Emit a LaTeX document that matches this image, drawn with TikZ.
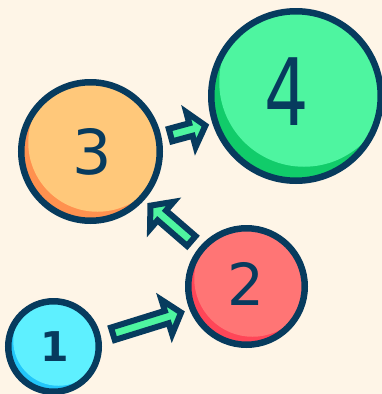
\documentclass[tikz,border=0pt]{standalone}
\usepackage{fontspec}
\usetikzlibrary{calc}
\newfontfamily\digitfont{DejaVu Sans}
\definecolor{bgcream}{HTML}{FEF5E7}
\definecolor{ink}{HTML}{073B5E}
\definecolor{cyanL}{HTML}{5EF0FF}
\definecolor{cyanD}{HTML}{22C6FA}
\definecolor{redL}{HTML}{FF7575}
\definecolor{redD}{HTML}{FF4658}
\definecolor{orangeL}{HTML}{FFC87A}
\definecolor{orangeD}{HTML}{FF914F}
\definecolor{greenL}{HTML}{4EF5A0}
\definecolor{greenD}{HTML}{11CC6A}
\tikzset{
  ball/.style n args={4}{circle, draw=ink, line width=6.5pt, fill=#3, minimum size=#1, inner sep=0pt,
    path picture={\fill[#2] ([#4]path picture bounding box.center) circle[radius=#1/2];}},
  digit/.style={text=ink, inner sep=0pt, outer sep=0pt, font=\digitfont},
  arrowbody/.style={fill=greenL, draw=ink, line width=6pt, line join=miter},
}
\newcommand\blkarrow[5]{%
  \coordinate (T) at ($(#1)!#3!(#2)$);
  \coordinate (P) at ($(#1)!#4!(#2)$);
  \coordinate (T) at ($(T)!#5!-90:(P)$);
  \coordinate (P) at ($(P)!#5!90:(T)$);
  \coordinate (B) at ($(P)!15pt!(T)$);
  \draw[arrowbody] ($(T)!6.5pt!90:(P)$) -- ($(B)!6.5pt!-90:(T)$) -- ($(B)!18pt!-90:(T)$) -- (P)
    -- ($(B)!18pt!90:(T)$) -- ($(B)!6.5pt!90:(T)$) -- ($(T)!6.5pt!-90:(P)$) -- cycle;
}
\begin{document}
\begin{tikzpicture}[x=1pt,y=-1pt]
\fill[bgcream] (0,0) rectangle (382,394);
\useasboundingbox (0,0) rectangle (382,394);
\node[ball={90.5pt}{cyanL}{cyanD}{xshift=5pt,yshift=6pt}] (c1) at (53.5,346.5) {};
\node[ball={116.5pt}{redL}{redD}{xshift=6pt,yshift=8pt}] (c2) at (246.5,286.5) {};
\node[ball={138.5pt}{orangeL}{orangeD}{xshift=7pt,yshift=9pt}] (c3) at (90.5,151.5) {};
\node[ball={169.5pt}{greenL}{greenD}{xshift=8pt,yshift=14pt}] (c4) at (296,96) {};
\node[digit, font=\digitfont\bfseries\fontsize{41}{41}\selectfont] (t1) at (54.5,347) {1};
\node[digit, font=\digitfont\fontsize{58}{58}\selectfont] (t2) at (245.5,284) {2};
\node[digit, font=\digitfont\fontsize{62}{62}\selectfont] (t3) at (92,152) {3};
\node[digit, xscale=0.75, font=\digitfont\fontsize{93}{93}\selectfont] (t4) at (287,92) {4};
\blkarrow{c1}{c2}{60.5pt}{131.5pt}{5.5pt}
\blkarrow{c2}{c3}{71.5pt}{125.5pt}{-1.7pt}
\blkarrow{c3}{c4}{81.5pt}{117pt}{5pt}
\end{tikzpicture}
\end{document}
